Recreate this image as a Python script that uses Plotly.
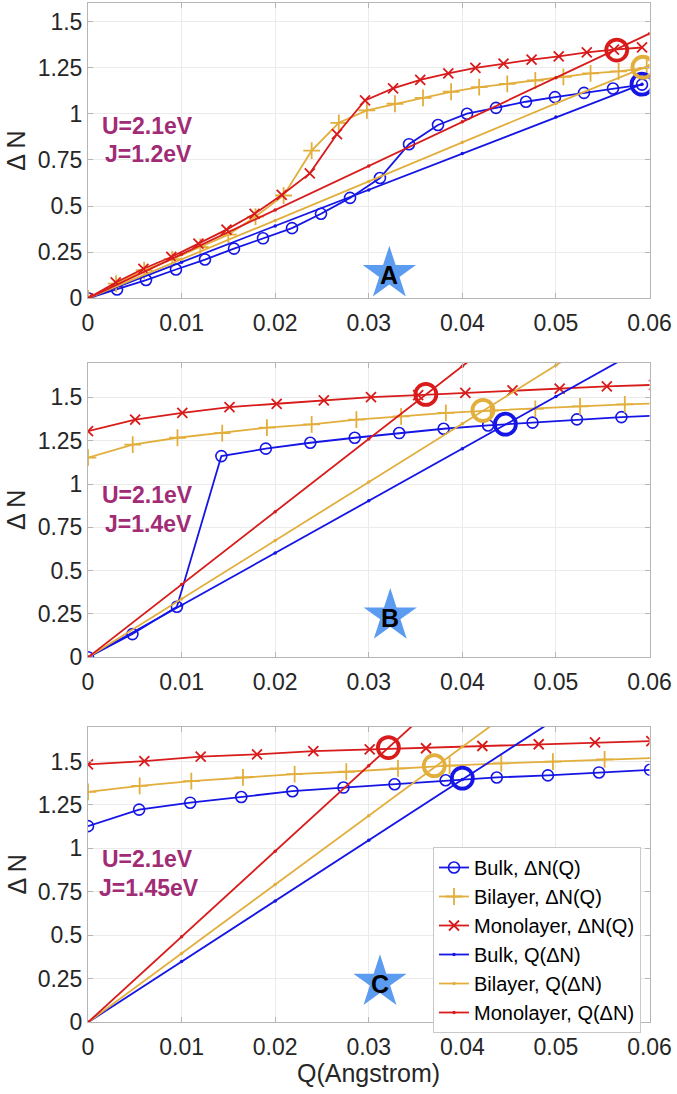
import plotly.graph_objects as go

# ---------------- data ----------------
# Panel A  (U=2.1eV, J=1.2eV)
qA_bulk = [0, .0031, .0062, .0094, .0125, .0156, .0187, .0218, .0249, .028, .0312, .0343, .0374, .0405,
           .0436, .0468, .0499, .053, .0561, .0592]
dnA_bulk = [0, 0.048, 0.099, 0.156, 0.21, 0.269, 0.325, 0.38, 0.458, 0.544, 0.652, 0.835, 0.939, 1.0,
            1.032, 1.065, 1.09, 1.113, 1.137, 1.158]
qA_bi = [0, .003, .006, .009, .012, .015, .0179, .0209, .0239, .0268, .0298, .0328, .0358, .0388, .0418,
         .0448, .0478, .0508, .0537, .0567, .0597]
dnA_bi = [0, 0.08, 0.152, 0.212, 0.278, 0.345, 0.443, 0.557, 0.80, 0.951, 1.018, 1.054, 1.086, 1.119,
          1.144, 1.162, 1.18, 1.2, 1.219, 1.23, 1.248]
qA_mono = [0, .00296, .00592, .0089, .0118, .0148, .0178, .0207, .0237, .0266, .0296, .0326, .0355, .0385,
           .0414, .0444, .0474, .0503, .0533, .0562, .0592]
dnA_mono = [0, 0.086, 0.16, 0.224, 0.296, 0.372, 0.458, 0.56, 0.677, 0.889, 1.072, 1.137, 1.183, 1.219,
            1.248, 1.272, 1.293, 1.311, 1.332, 1.347, 1.359]
qA_line_bulk = [0, 0.01, 0.02, 0.03, 0.04, 0.05, 0.0592]
dnA_line_bulk = [0, 0.196, 0.392, 0.587, 0.785, 0.982, 1.16]
qA_line_bi = [0, 0.01, 0.02, 0.03, 0.04, 0.05, 0.06]
dnA_line_bi = [0, 0.211, 0.422, 0.633, 0.845, 1.056, 1.262]
qA_line_mono = [0, 0.01, 0.02, 0.03, 0.04, 0.05, 0.06]
dnA_line_mono = [0, 0.239, 0.478, 0.717, 0.956, 1.195, 1.434]
crossA_q = [0.0592, 0.0593, 0.0565]
crossA_dn = [1.16, 1.252, 1.345]

# Panel B  (U=2.1eV, J=1.4eV)
qB_bulk = [0, .00475, .0095, .01425, .019, .02375, .0285, .03325, .038, .04275, .0475, .05225, .057, .06175]
dnB_bulk = [0, 0.134, 0.292, 1.161, 1.204, 1.238, 1.267, 1.294, 1.319, 1.338, 1.354, 1.373, 1.386, 1.397]
qB_bi = [0, .00478, .00956, .01434, .01912, .0239, .02868, .03346, .03824, .04302, .0478, .05258, .05736,
         .06214]
dnB_bi = [1.152, 1.227, 1.267, 1.294, 1.325, 1.344, 1.371, 1.39, 1.411, 1.424, 1.434, 1.448, 1.459, 1.468]
qB_mono = [0, .00504, .01008, .01512, .02016, .0252, .03024, .03528, .04032, .04536, .0504, .05544, .06048]
dnB_mono = [1.305, 1.371, 1.411, 1.444, 1.463, 1.482, 1.501, 1.513, 1.526, 1.54, 1.55, 1.563, 1.572]
qB_line = [0, 0.01, 0.02, 0.03, 0.04, 0.05, 0.06]
dnB_line_bulk = [0, 0.301, 0.602, 0.903, 1.204, 1.505, 1.806]
dnB_line_bi = [0, 0.337, 0.674, 1.011, 1.348, 1.685, 2.022]
dnB_line_mono = [0, 0.42, 0.84, 1.26, 1.68, 2.1, 2.52]
crossB_q = [0.0446, 0.0422, 0.0361]
crossB_dn = [1.345, 1.425, 1.517]

# Panel C  (U=2.1eV, J=1.45eV)
qC_bulk = [0, .00546, .01092, .01638, .02184, .0273, .03276, .03822, .04368, .04914, .0546, .06006]
dnC_bulk = [1.128, 1.223, 1.263, 1.296, 1.329, 1.35, 1.369, 1.392, 1.408, 1.42, 1.437, 1.452]
qC_bi = [0, .00552, .01104, .01656, .02208, .0276, .03312, .03864, .04416, .04968, .0552, .06072]
dnC_bi = [1.325, 1.36, 1.387, 1.408, 1.427, 1.441, 1.46, 1.476, 1.489, 1.499, 1.512, 1.521]
qC_mono = [0, .00602, .01204, .01806, .02408, .0301, .03612, .04214, .04816, .05418, .0602]
dnC_mono = [1.483, 1.502, 1.528, 1.541, 1.56, 1.57, 1.576, 1.589, 1.599, 1.61, 1.617]
qC_line = [0, 0.01, 0.02, 0.03, 0.04, 0.05, 0.06]
dnC_line_bulk = [0, 0.349, 0.698, 1.047, 1.396, 1.745, 2.094]
dnC_line_bi = [0, 0.396, 0.792, 1.188, 1.584, 1.98, 2.376]
dnC_line_mono = [0, 0.492, 0.984, 1.476, 1.968, 2.46, 2.952]
crossC_q = [0.04, 0.037, 0.0321]
crossC_dn = [1.404, 1.476, 1.58]

params = [("U=2.1eV", "J=1.2eV"), ("U=2.1eV", "J=1.4eV"), ("U=2.1eV", "J=1.45eV")]
panel_letters = ["A", "B", "C"]
star_q = [0.0322, 0.0323, 0.0312]
star_dn = [0.133, 0.238, 0.23]
letter_dn = [0.125, 0.226, 0.218]
y_max = [1.6, 1.7, 1.7]

series_names = ["Bulk, ΔN(Q)", "Bilayer, ΔN(Q)", "Monolayer, ΔN(Q)",
                "Bulk, Q(ΔN)", "Bilayer, Q(ΔN)", "Monolayer, Q(ΔN)"]

# ---------------- styling ----------------
BLUE = "#1515e6"
GOLD = "#e2ae3c"
RED = "#d81b1b"
PURPLE = "#a22b76"
STAR = "#5b9cf0"
FONT = "Liberation Sans, Arial, sans-serif"
W, H = 677, 1094
XL, XR = 88, 649.5
panels_px = [(3, 298.3), (362.7, 657.3), (726.7, 1022.3)]

panels = [
    dict(bulk=(qA_bulk, dnA_bulk), bi=(qA_bi, dnA_bi), mono=(qA_mono, dnA_mono),
         lbulk=(qA_line_bulk, dnA_line_bulk), lbi=(qA_line_bi, dnA_line_bi),
         lmono=(qA_line_mono, dnA_line_mono), cross=(crossA_q, crossA_dn)),
    dict(bulk=(qB_bulk, dnB_bulk), bi=(qB_bi, dnB_bi), mono=(qB_mono, dnB_mono),
         lbulk=(qB_line, dnB_line_bulk), lbi=(qB_line, dnB_line_bi),
         lmono=(qB_line, dnB_line_mono), cross=(crossB_q, crossB_dn)),
    dict(bulk=(qC_bulk, dnC_bulk), bi=(qC_bi, dnC_bi), mono=(qC_mono, dnC_mono),
         lbulk=(qC_line, dnC_line_bulk), lbi=(qC_line, dnC_line_bi),
         lmono=(qC_line, dnC_line_mono), cross=(crossC_q, crossC_dn)),
]

fig = go.Figure()
annotations = []
layout_axes = {}

for i, p in enumerate(panels):
    sfx = "" if i == 0 else str(i + 1)
    xa, ya = "x" + sfx, "y" + sfx
    show = (i == 2)
    specs = [
        ("bulk", BLUE, dict(symbol="circle-open", size=11, line=dict(width=1.6, color=BLUE))),
        ("bi", GOLD, dict(symbol="cross-thin-open", size=12, line=dict(width=1.8, color=GOLD))),
        ("mono", RED, dict(symbol="x-thin-open", size=10, line=dict(width=1.8, color=RED))),
        ("lbulk", BLUE, dict(symbol="circle", size=3.5, color=BLUE)),
        ("lbi", GOLD, dict(symbol="circle", size=3.5, color=GOLD)),
        ("lmono", RED, dict(symbol="circle", size=3.5, color=RED)),
    ]
    for (key, col, mk), name in zip(specs, series_names):
        q, dn = p[key]
        fig.add_trace(go.Scatter(x=q, y=dn, mode="lines+markers", name=name,
                                 line=dict(color=col, width=1.8), marker=mk,
                                 xaxis=xa, yaxis=ya, showlegend=show))
    cq, cdn = p["cross"]
    fig.add_trace(go.Scatter(x=cq, y=cdn, mode="markers", showlegend=False,
                             marker=dict(symbol="circle-open", size=21,
                                         color=[BLUE, GOLD, RED],
                                         line=dict(width=3.8, color=[BLUE, GOLD, RED])),
                             xaxis=xa, yaxis=ya))
    fig.add_trace(go.Scatter(x=[star_q[i]], y=[star_dn[i]], mode="markers", showlegend=False,
                             marker=dict(symbol="star", size=40, color=STAR, line=dict(width=0)),
                             xaxis=xa, yaxis=ya))
    annotations.append(dict(x=star_q[i], y=letter_dn[i], xref=xa, yref=ya, text="<b>%s</b>" % panel_letters[i],
                            showarrow=False, xanchor="center", yanchor="middle",
                            font=dict(size=25, color="black", family=FONT)))
    annotations.append(dict(x=0.0064, y=[0.934, 0.935, 0.939][i], xref=xa, yref=ya,
                            text="<b>%s</b>" % params[i][0], showarrow=False,
                            xanchor="center", yanchor="middle",
                            font=dict(size=23, color=PURPLE, family=FONT)))
    annotations.append(dict(x=0.0065, y=[0.781, 0.772, 0.77][i], xref=xa, yref=ya,
                            text="<b>%s</b>" % params[i][1], showarrow=False,
                            xanchor="center", yanchor="middle",
                            font=dict(size=23, color=PURPLE, family=FONT)))
    top, bot = panels_px[i]
    annotations.append(dict(x=16 / W, y=1 - (top + bot) / 2 / H, xref="paper", yref="paper",
                            text="Δ N", textangle=-90, showarrow=False,
                            xanchor="center", yanchor="middle",
                            font=dict(size=25, color="#262626", family=FONT)))
    axis_common = dict(showgrid=True, gridcolor="#ebebeb", gridwidth=1, showline=True,
                       linecolor="#b5b5b5", linewidth=1, mirror="ticks", ticks="inside",
                       ticklen=5, tickcolor="#b5b5b5", zeroline=False,
                       tickfont=dict(size=23, color="#262626", family=FONT), automargin=False)
    layout_axes["xaxis" + sfx] = dict(axis_common, domain=[XL / W, XR / W], anchor=ya, range=[0, 0.06],
                                      tickvals=[0, 0.01, 0.02, 0.03, 0.04, 0.05, 0.06],
                                      ticktext=["0", "0.01", "0.02", "0.03", "0.04", "0.05", "0.06"],
                                      ticklabelstandoff=4)
    layout_axes["yaxis" + sfx] = dict(axis_common, domain=[1 - bot / H, 1 - top / H], anchor=xa,
                                      range=[0, y_max[i]],
                                      tickvals=[0, 0.25, 0.5, 0.75, 1, 1.25, 1.5],
                                      ticktext=["0", "0.25", "0.5", "0.75", "1", "1.25", "1.5"])

annotations.append(dict(x=(XL + XR) / 2 / W, y=1 - 1073 / H, xref="paper", yref="paper",
                        text="Q(Angstrom)", showarrow=False, xanchor="center", yanchor="middle",
                        font=dict(size=25, color="#262626", family=FONT)))

fig.update_layout(
    width=W, height=H, margin=dict(l=0, r=0, t=0, b=0),
    paper_bgcolor="white", plot_bgcolor="white",
    font=dict(family=FONT, color="#262626"),
    annotations=annotations,
    legend=dict(x=641 / W, y=1 - 847 / H, xanchor="right", yanchor="top",
                bgcolor="white", bordercolor="#c8c8c8", borderwidth=1,
                font=dict(size=20, color="black", family=FONT), itemwidth=30,
                tracegroupgap=0),
    **layout_axes,
)

fig.write_html("out.html", config={"displayModeBar": False},
               post_script="document.body.style.margin='0';document.body.style.padding='0';")
